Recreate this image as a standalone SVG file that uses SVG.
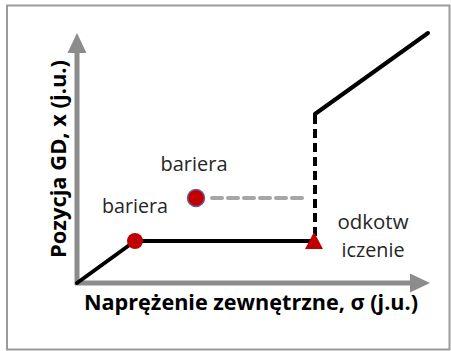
<svg xmlns="http://www.w3.org/2000/svg" width="451" height="351" viewBox="0 0 451 351">
<style>
.lbl{font-family:"Open Sans","Liberation Sans",sans-serif;font-size:20px;fill:#262626;text-anchor:middle}
.ax{font-family:"Open Sans","Liberation Sans",sans-serif;font-size:22px;font-weight:bold;fill:#000}
.axis{stroke:#8c8c8c;stroke-width:5;fill:none}
.curve{stroke:#000;stroke-width:4;fill:none;stroke-linecap:round;stroke-linejoin:round}
</style>
<defs>
<marker id="arr" markerUnits="userSpaceOnUse" markerWidth="20" markerHeight="20" refX="0" refY="9" orient="auto" viewBox="0 0 19 18">
<path d="M0,0 L19,9 L0,18 Z" fill="#8c8c8c"/>
</marker>
</defs>
<rect x="7" y="5.5" width="442.5" height="344" fill="#fff" stroke="#9a9a9a" stroke-width="2"/>
<g id="connectors">
<line class="axis" x1="77" y1="285" x2="77" y2="53" marker-end="url(#arr)"/>
<line class="axis" x1="75" y1="283" x2="410" y2="283" marker-end="url(#arr)"/>
<polyline class="curve" points="77,283 135,241 313,241"/>
<line x1="315" y1="236" x2="315" y2="117" stroke="#000" stroke-width="4" stroke-dasharray="9,5"/>
<polyline class="curve" points="315,120 315,114 428,33"/>
<line x1="212" y1="198" x2="302" y2="198" stroke="#a6a6a6" stroke-width="4" stroke-dasharray="10,6" stroke-linecap="round"/>
</g>
<g id="node-barrier1">
<circle cx="135" cy="241" r="8" fill="#c00000"/>
<text class="lbl" x="135" y="213" textLength="66" lengthAdjust="spacingAndGlyphs">bariera</text>
</g>
<g id="node-barrier2">
<circle cx="196" cy="198" r="8.5" fill="#c00000" stroke="#6a5a9e" stroke-width="1.5"/>
<text class="lbl" x="194" y="171" textLength="67" lengthAdjust="spacingAndGlyphs">bariera</text>
</g>
<g id="node-unpin">
<polygon points="314,232 323,249 305,249" fill="#c00000"/>
<text class="lbl" x="373" y="229" textLength="71" lengthAdjust="spacingAndGlyphs">odkotw</text>
<text class="lbl" x="373" y="257" textLength="63" lengthAdjust="spacingAndGlyphs">iczenie</text>
</g>
<g id="axis-labels">
<text class="ax" x="84" y="310" textLength="334" lengthAdjust="spacingAndGlyphs">Naprężenie zewnętrzne, σ (j.u.)</text>
<text class="ax" transform="translate(66,258) rotate(-90)" x="0" y="0" textLength="198" lengthAdjust="spacingAndGlyphs">Pozycja GD, x (j.u.)</text>
</g>
</svg>
